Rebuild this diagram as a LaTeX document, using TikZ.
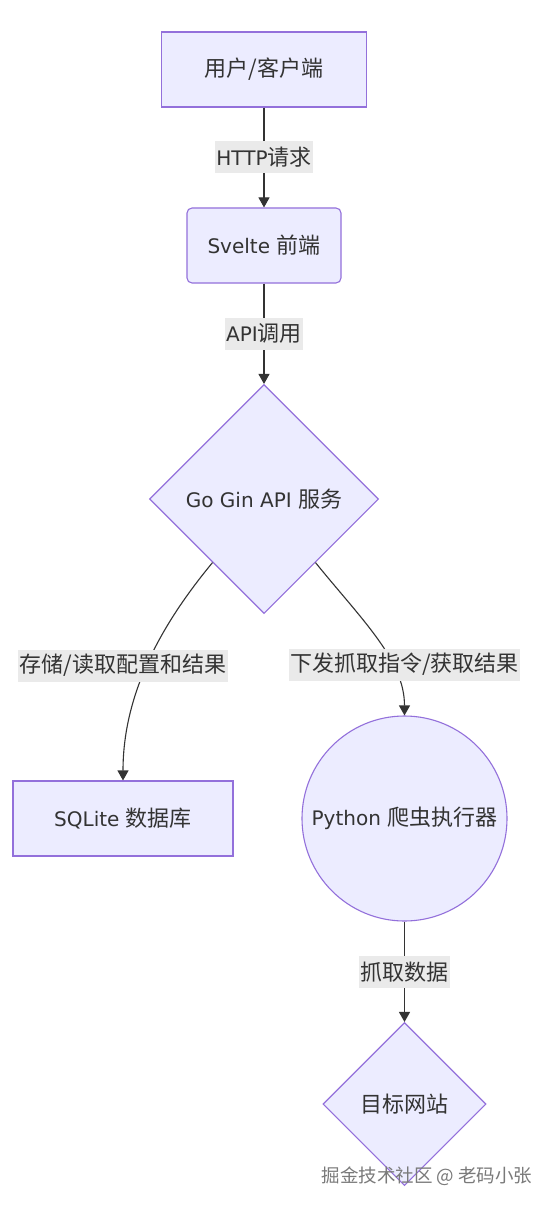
\documentclass[tikz,border=0pt]{standalone}
\usepackage{fontspec}
\setmainfont{DejaVu Sans}[Scale=0.91]
\newfontfamily\cjk{Noto Sans CJK SC}
\usetikzlibrary{shapes.geometric,arrows.meta}
\definecolor{nodefill}{HTML}{ECECFF}
\definecolor{nodeline}{HTML}{9370DB}
\definecolor{txt}{HTML}{333333}
\definecolor{lblbg}{HTML}{EAEAEA}
\definecolor{wmgray}{HTML}{7A7A7A}
\tikzset{
  base/.style={fill=nodefill, draw=nodeline, line width=1.1pt, text=txt, inner sep=0pt,
    font=\fontsize{22}{26}\selectfont},
  rectbox/.style={base, rectangle, minimum width=#1, minimum height=75pt},
  roundbox/.style={base, rectangle, rounded corners=5pt, minimum width=#1, minimum height=75pt},
  diabox/.style={base, diamond, minimum width=#1, minimum height=#1},
  circbox/.style={base, circle, minimum size=#1},
  edge/.style={draw=txt, line width=1.1pt, -{Triangle[length=10pt,width=11pt]}},
  lbl/.style={fill=lblbg, text=txt, inner xsep=1.5pt, inner ysep=0pt, minimum height=32pt,
    font=\fontsize{22}{26}\selectfont},
  wm/.style={text=wmgray, inner sep=0pt, font=\fontsize{18.5}{22}\selectfont\cjk}
}
\begin{document}
\begin{tikzpicture}[x=1pt,y=-1pt]
\useasboundingbox (0,0) rectangle (552,1206);
\fill[white] (0,0) rectangle (552,1206);
\node[rectbox=205pt] (user) at (264,69.5) {\cjk 用户/客户端};
\node[roundbox=154pt] (svelte) at (264,245.5) {Svelte {\cjk 前端}};
\node[diabox=229pt] (go) at (264,499) {Go Gin API {\cjk 服务}};
\node[rectbox=220pt] (db) at (123,818.5) {SQLite {\cjk 数据库}};
\node[circbox=205pt] (py) at (404.5,818.5) {Python {\cjk 爬虫执行器}};
\node[diabox=163pt] (site) at (404.5,1104) {\cjk 目标网站};

\draw[edge] (user) -- node[lbl] (l1) {HTTP{\cjk 请求}} (svelte);
\draw[edge] (svelte) -- node[lbl] (l2) {API{\cjk 调用}} (go);
\draw[edge] (go.231) .. controls (165,620) and (123,690) .. (db.north);
\draw[edge] (go.309) .. controls (362,620) and (404.5,660) .. (py.north);
\draw[edge] (py) -- node[lbl] (l5) {\cjk 抓取数据} (site);
\node[lbl] (l3) at (123,665.5) {\cjk 存储/读取配置和结果};
\node[lbl] (l4) at (404.5,664.5) {\cjk 下发抓取指令/获取结果};

\node[wm] (wmark) at (427,1176) {掘金技术社区 @ 老码小张};
\end{tikzpicture}
\end{document}
